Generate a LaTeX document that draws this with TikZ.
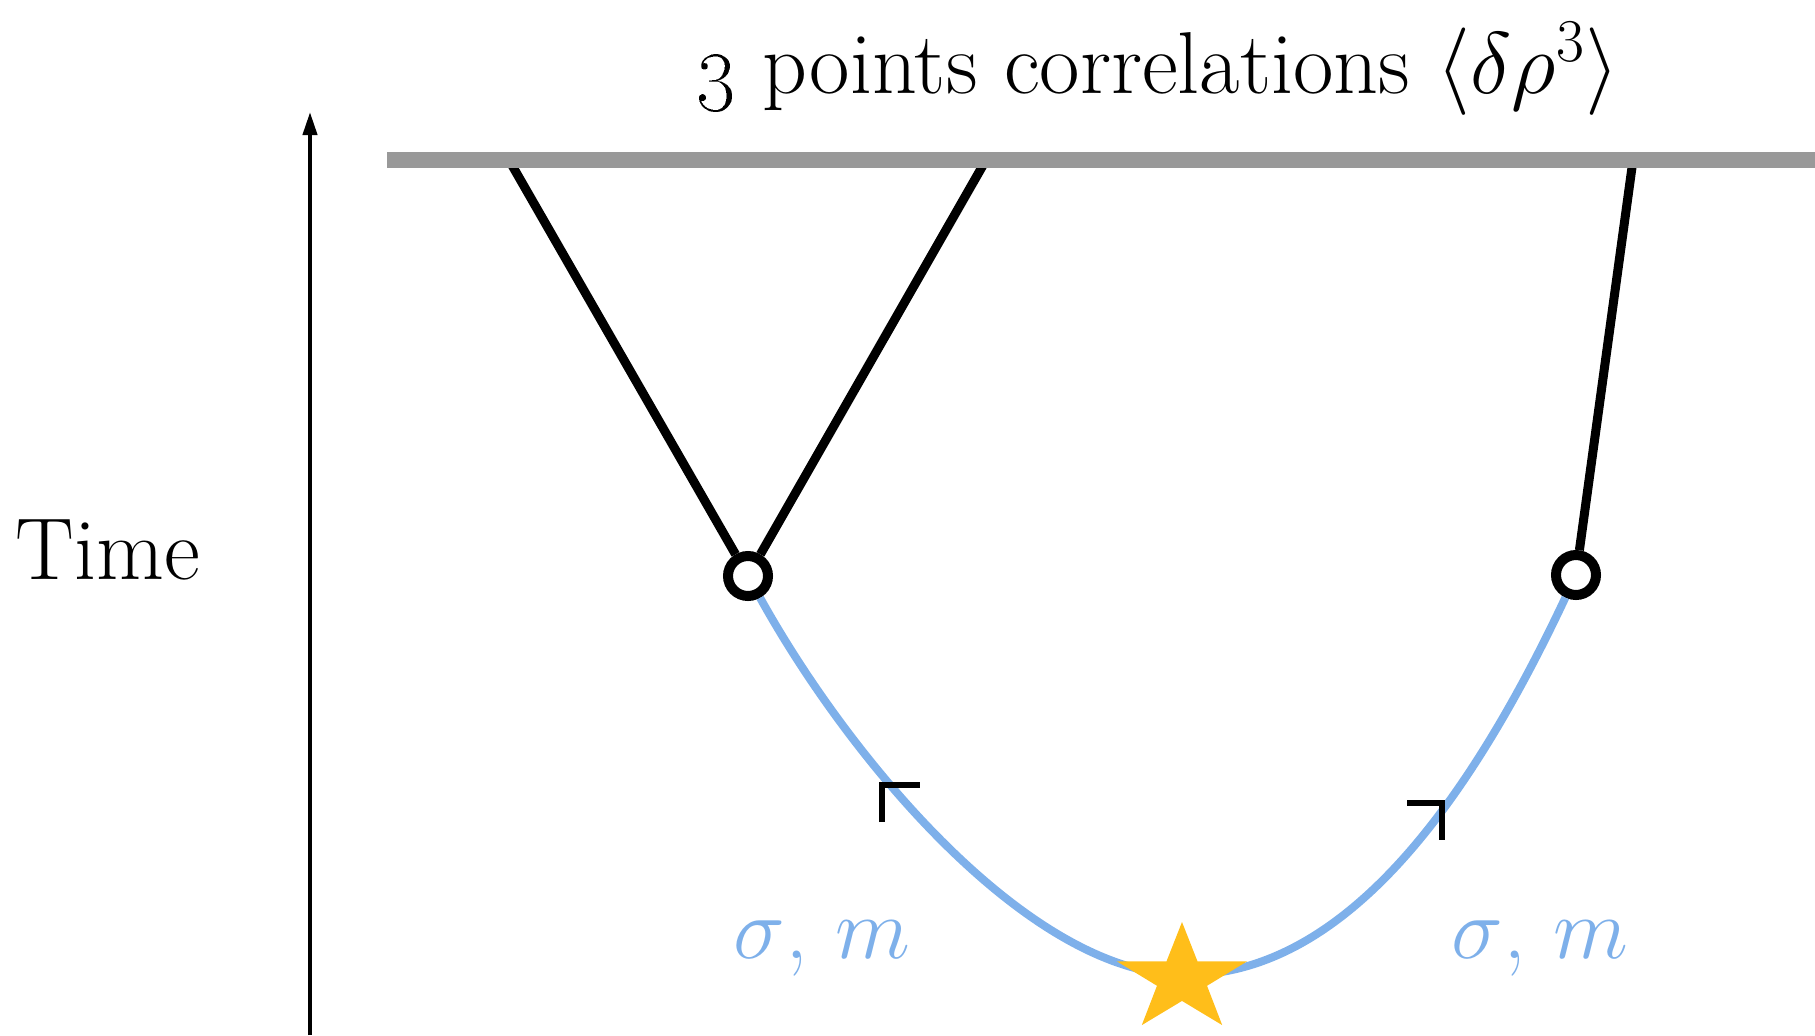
\documentclass[tikz,border=0pt]{standalone}
\usepackage{amsmath,amssymb}
\usepackage{xcolor}
\usepackage{tikz}
\usetikzlibrary{arrows.meta,positioning,shapes.geometric}
\definecolor{BarGray}{HTML}{999999}
\definecolor{LineBlue}{HTML}{7EB0EA}
\definecolor{StarGold}{HTML}{FFBE1A}
\tikzset{
  surface/.style={line width=1.6mm,draw=BarGray},
  leg/.style={line width=0.9mm,draw=black},
  vertex/.style={circle,draw=black,fill=white,line width=1mm,minimum size=4mm,inner sep=0pt},
  prop/.style={line width=0.8mm,draw=LineBlue},
  tick/.style={line width=0.55mm,draw=black},
  axis/.style={-{Triangle[length=2.3mm,width=1.4mm]},line width=0.4mm,draw=black},
  label/.style={font=\fontsize{25}{30}\selectfont,inner sep=0pt},
  mass/.style={font=\fontsize{26}{30}\selectfont,text=LineBlue,inner sep=0pt},
  vstar/.style={star,star points=5,star point ratio=2.6,fill=StarGold,draw=none,
              minimum size=11.4mm,inner sep=0pt,xscale=1.2,transform shape}
}

\begin{document}
\begin{tikzpicture}
  \useasboundingbox (0,0) rectangle (18.15,10.35);
  % time axis
  \coordinate (tbot) at (3.10,0);
  \coordinate (ttop) at (3.10,9.23);
  \draw[axis] (tbot) -- (ttop);
  \node[label,anchor=base] (time) at (1.08,4.56) {Time};
  % late time surface
  \coordinate (bl) at (3.87,8.75);
  \coordinate (br) at (18.15,8.75);
  \coordinate (b1) at (5.09,8.75);
  \coordinate (b2) at (9.86,8.75);
  \coordinate (b3) at (16.33,8.75);
  \node[vertex] (v1) at (7.48,4.59) {};
  \node[vertex] (v2) at (15.76,4.60) {};
  \draw[leg] (b1) -- (v1);
  \draw[leg] (b2) -- (v1);
  \draw[leg] (b3) -- (v2);
  \draw[surface] (bl) -- (br);
  \node[label,anchor=base] (title) at (11.58,9.42) {\oldstylenums{3} points correlations $\langle\delta\rho^3\rangle$};
  % heavy field line
  \coordinate (low) at (11.85,0.60);
  \draw[prop] (v1) .. controls (8.50,2.75) and (10.30,0.60) .. (low)
                   .. controls (13.35,0.60) and (14.59,2.11) .. (v2);
  \draw[tick] (8.82,2.13) |- (9.20,2.50);
  \draw[tick] (14.07,2.32) -| (14.42,1.95);
  \node[vstar] (bang) at (11.82,0.56) {};
  \node[mass,anchor=base] (m1) at (8.22,0.77) {$\sigma$, $m$};
  \node[mass,anchor=base] (m2) at (15.40,0.77) {$\sigma$, $m$};
\end{tikzpicture}
\end{document}
